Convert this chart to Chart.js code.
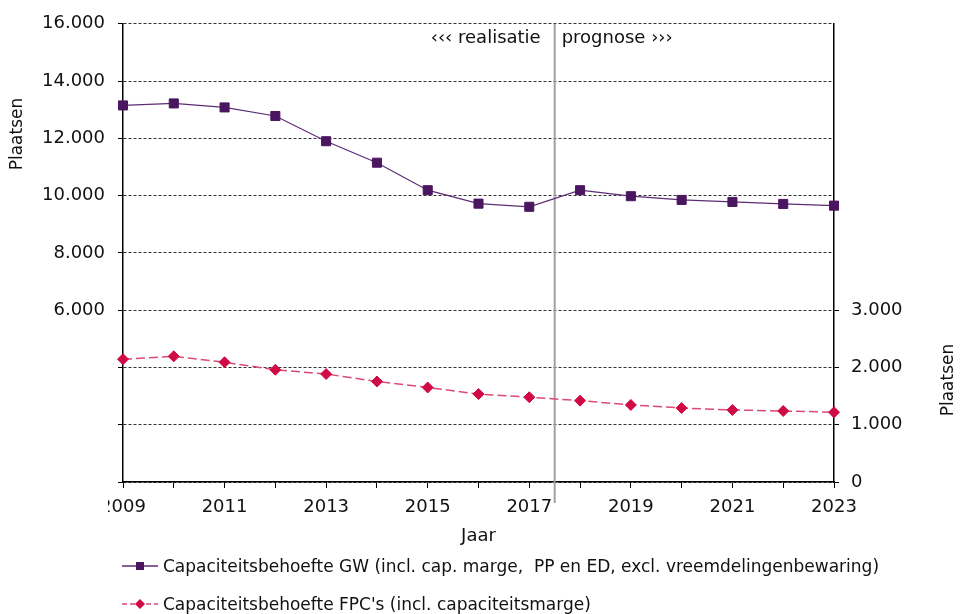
<!DOCTYPE html>
<html lang="nl">
<head>
<meta charset="utf-8">
<title>Capaciteitsbehoefte</title>
<script src="https://cdn.jsdelivr.net/npm/chart.js@4.4.1/dist/chart.umd.min.js"></script>
<style>
  body { margin: 0; background: #fff; }
  #wrap { position: relative; width: 960px; height: 614px; }
  #legend { position: absolute; left: 122px; top: 556px; font-family: "DejaVu Sans", Verdana, sans-serif; font-size: 17px; color: #111; }
  .legend-row { display: flex; align-items: center; height: 20px; margin-bottom: 18px; white-space: pre; }
  .legend-row svg { margin-right: 5px; }
</style>
</head>
<body>
<div id="wrap">
  <canvas id="chart" width="960" height="614"></canvas>
  <div id="legend"></div>
</div>
<script>
// Jaren en capaciteitsbehoefte (plaatsen)
const years = ['2009', '2010', '2011', '2012', '2013', '2014', '2015', '2016', '2017', '2018', '2019', '2020', '2021', '2022', '2023'];
const gwValues = [13150, 13220, 13080, 12780, 11900, 11150, 10190, 9720, 9610, 10190, 9980, 9850, 9780, 9710, 9650];
const fpcValues = [2145, 2195, 2090, 1960, 1885, 1755, 1650, 1535, 1480, 1420, 1345, 1292, 1258, 1240, 1218];
const gwLabel = 'Capaciteitsbehoefte GW (incl. cap. marge,  PP en ED, excl. vreemdelingenbewaring)';
const fpcLabel = "Capaciteitsbehoefte FPC's (incl. capaciteitsmarge)";
const splitIndex = 8.5; // tussen 2017 en 2018: realisatie | prognose

const GW_COLOR = '#4b1660';
const GW_LINE = '#5c2c74';
const FPC_COLOR = '#cf0a45';
const FPC_LINE = '#dc4a76';
const FONT = '"DejaVu Sans", Verdana, sans-serif';

function fmt(v) {
    return String(v).replace(/\B(?=(\d{3})+(?!\d))/g, '.');
}

// realisatie/prognose scheidslijn, titels van de y-assen en afgesneden eerste jaartal
const extras = {
    id: 'extras',
    beforeDatasetsDraw(chart) {
        const { ctx, chartArea, scales } = chart;
        const x = scales.x.getPixelForValue(splitIndex);
        ctx.save();
        ctx.strokeStyle = '#a0a0a0';
        ctx.lineWidth = 2;
        ctx.beginPath();
        ctx.moveTo(x, chartArea.top);
        ctx.lineTo(x, chartArea.bottom + 21);
        ctx.stroke();
        ctx.fillStyle = '#111';
        ctx.font = '18px ' + FONT;
        ctx.textBaseline = 'middle';
        ctx.textAlign = 'right';
        ctx.fillText('‹‹‹ realisatie', x - 14, chartArea.top + 15);
        ctx.textAlign = 'left';
        ctx.fillText('prognose ›››', x + 7, chartArea.top + 15);
        ctx.restore();
    },
    afterDraw(chart) {
        const { ctx, chartArea } = chart;
        ctx.save();
        ctx.fillStyle = '#fff';
        ctx.fillRect(0, chartArea.bottom + 10, 108, 30);
        ctx.fillStyle = '#111';
        ctx.font = '17px ' + FONT;
        ctx.textAlign = 'center';
        ctx.textBaseline = 'middle';
        ctx.translate(18, 134);
        ctx.rotate(-Math.PI / 2);
        ctx.fillText('Plaatsen', 0, 0);
        ctx.restore();
        ctx.save();
        ctx.fillStyle = '#111';
        ctx.font = '17px ' + FONT;
        ctx.textAlign = 'center';
        ctx.textBaseline = 'middle';
        ctx.translate(949, 380);
        ctx.rotate(-Math.PI / 2);
        ctx.fillText('Plaatsen', 0, 0);
        ctx.restore();
    }
};

new Chart(document.getElementById('chart'), {
    type: 'line',
    data: {
        labels: years,
        datasets: [{
            label: gwLabel,
            data: gwValues,
            yAxisID: 'y',
            borderColor: GW_LINE,
            borderWidth: 1.2,
            pointStyle: 'rect',
            pointRadius: 6.4,
            pointBackgroundColor: GW_COLOR,
            pointBorderColor: GW_COLOR,
            pointBorderWidth: 1,
            tension: 0
        }, {
            label: fpcLabel,
            data: fpcValues,
            yAxisID: 'y2',
            borderColor: FPC_LINE,
            borderWidth: 1.5,
            borderDash: [9, 4],
            pointStyle: 'rectRot',
            pointRadius: 5.5,
            pointBackgroundColor: FPC_COLOR,
            pointBorderColor: FPC_COLOR,
            pointBorderWidth: 1,
            tension: 0
        }]
    },
    options: {
        responsive: false,
        animation: false,
        devicePixelRatio: 1,
        layout: { padding: { top: 22, right: 0, bottom: 62, left: 0 } },
        plugins: {
            legend: { display: false },
            tooltip: { enabled: false }
        },
        scales: {
            x: {
                offset: false,
                grid: { drawOnChartArea: false, drawTicks: true, tickLength: 6, color: '#000' },
                border: { display: true, color: '#000', width: 1.5 },
                ticks: {
                    autoSkip: false,
                    maxRotation: 0,
                    padding: 9,
                    color: '#111',
                    font: { family: FONT, size: 18 },
                    callback: (v, i) => (i % 2 === 0 ? years[i] : '')
                },
                title: {
                    display: true,
                    text: 'Jaar',
                    color: '#111',
                    font: { family: FONT, size: 18 },
                    padding: { top: 0, bottom: 5 }
                },
                afterFit: s => { s.height = 70; }
            },
            y: {
                position: 'left',
                min: 0,
                max: 16000,
                grid: {
                    color: '#333',
                    lineWidth: 1,
                    tickLength: 5,
                    tickColor: '#000'
                },
                // border.dash stippelt de gridlijnen, de aslijn zelf blijft doorgetrokken
                border: { display: true, color: '#000', width: 1.5, dash: [3, 2] },
                ticks: {
                    stepSize: 2000,
                    padding: 13,
                    color: '#111',
                    font: { family: FONT, size: 18 },
                    callback: v => (v >= 6000 ? fmt(v) : '')
                },
                afterFit: s => { s.width = 123; }
            },
            y2: {
                position: 'right',
                min: 0,
                max: 8000,
                grid: { drawOnChartArea: false, tickLength: 5, color: '#000' },
                border: { display: true, color: '#000', width: 1.5 },
                ticks: {
                    stepSize: 1000,
                    padding: 12,
                    color: '#111',
                    font: { family: FONT, size: 18 },
                    callback: v => fmt(v)
                },
                afterBuildTicks: s => { s.ticks = s.ticks.filter(t => t.value <= 3000); },
                afterFit: s => { s.width = 126; }
            }
        }
    },
    plugins: [extras]
});

// legenda onder de grafiek
const legendItems = [
    { text: gwLabel, svg: `<svg width="36" height="14"><line x1="0" y1="7" x2="36" y2="7" stroke="${GW_LINE}" stroke-width="1.4"/><rect x="14" y="3" width="8" height="8" fill="${GW_COLOR}"/></svg>` },
    { text: fpcLabel, svg: `<svg width="36" height="14"><line x1="0" y1="7" x2="36" y2="7" stroke="${FPC_LINE}" stroke-width="1.4" stroke-dasharray="5 3"/><polygon points="18,2 23,7 18,12 13,7" fill="${FPC_COLOR}"/></svg>` }
];
document.getElementById('legend').innerHTML = legendItems.map(item =>
    `<div class="legend-row">${item.svg}<span>${item.text}</span></div>`
).join('');
</script>
</body>
</html>
